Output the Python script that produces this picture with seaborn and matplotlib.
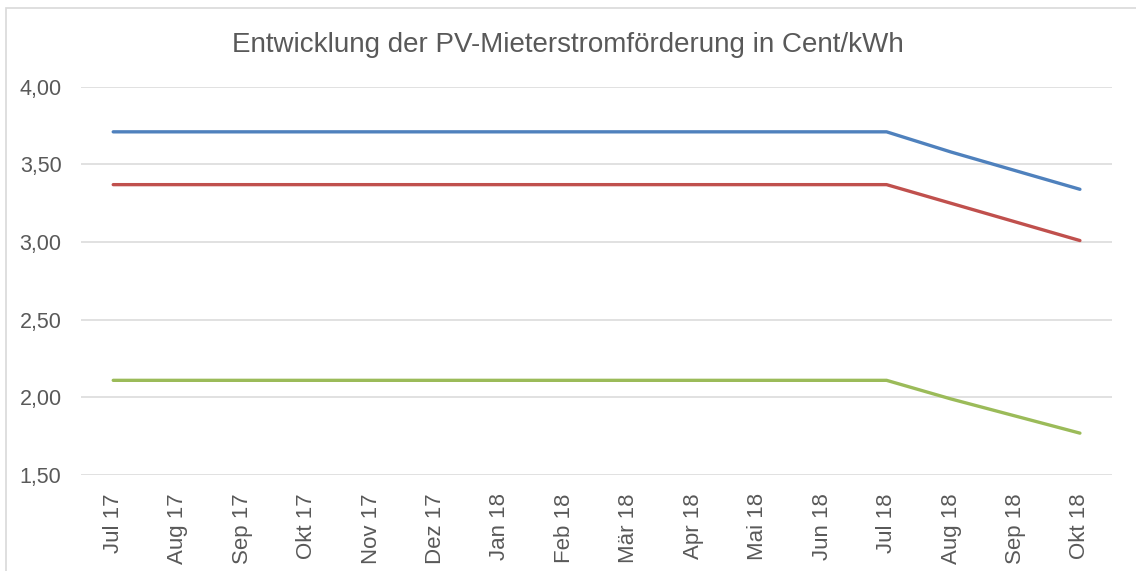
import matplotlib
matplotlib.use("Agg")
import matplotlib.pyplot as plt
import numpy as np
import pandas as pd
import seaborn as sns
from matplotlib.patches import Rectangle
from matplotlib.ticker import FuncFormatter

months = ["Jul 17", "Aug 17", "Sep 17", "Okt 17", "Nov 17", "Dez 17", "Jan 18", "Feb 18",
          "Mär 18", "Apr 18", "Mai 18", "Jun 18", "Jul 18", "Aug 18", "Sep 18", "Okt 18"]
bis_10kw = [3.71] * 13 + [3.58, 3.46, 3.34]
bis_40kw = [3.37] * 13 + [3.25, 3.13, 3.01]
bis_100kw = [2.11] * 13 + [1.99, 1.88, 1.77]

series = {"bis 10 kW": bis_10kw, "bis 40 kW": bis_40kw, "bis 100 kW": bis_100kw}
colors = ["#4F81BD", "#C0504D", "#9BBB59"]

df = pd.concat(
    [pd.DataFrame({"pos": np.arange(len(months)), "wert": vals, "klasse": name})
     for name, vals in series.items()],
    ignore_index=True,
)

sns.set_style("white")
plt.rcParams["font.family"] = ["Liberation Sans", "DejaVu Sans"]
grey = "#595959"

fig = plt.figure(figsize=(11.36, 5.71), dpi=100)
ax = fig.add_axes([0.0713, 0.168, 0.979 - 0.0713, 0.848 - 0.168])

sns.lineplot(data=df, x="pos", y="wert", hue="klasse", palette=colors,
             linewidth=2.4, legend=False, ax=ax, sort=False)

ax.set_xlim(-0.5, len(months) - 0.5)
ax.set_ylim(1.5, 4.0)
ax.set_yticks([1.5, 2.0, 2.5, 3.0, 3.5, 4.0])
ax.yaxis.set_major_formatter(FuncFormatter(lambda v, p: f"{v:.2f}".replace(".", ",")))
ax.set_xticks(np.arange(len(months)))
ax.set_xticklabels(months, rotation=90)
ax.tick_params(axis="both", colors=grey, length=0)
ax.tick_params(axis="x", pad=13, labelsize=16)
ax.tick_params(axis="y", pad=14, labelsize=15.5)
ax.grid(axis="y", color="#d9d9d9", linewidth=1.1)
ax.set_axisbelow(True)
for s in ax.spines.values():
    s.set_visible(False)
ax.set_xlabel("")
ax.set_ylabel("")

fig.text(0.5, 0.922, "Entwicklung der PV-Mieterstromförderung in Cent/kWh",
         ha="center", va="center", fontsize=20, color=grey)

fig.patches.append(Rectangle((0.005, -0.01), 1.2, 0.996, transform=fig.transFigure,
                             fill=False, edgecolor="#d9d9d9", linewidth=1.2))

fig.savefig("out.png", dpi=100)
